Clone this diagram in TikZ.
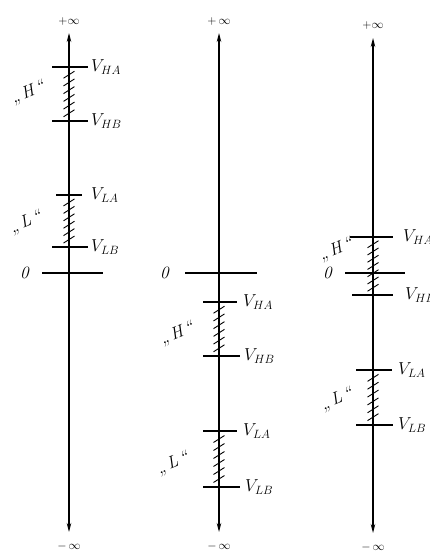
\documentclass[tikz,border=0pt]{standalone}
\usepackage{fontspec}
\usetikzlibrary{arrows.meta,positioning}

\tikzset{
    axisline/.style={line width=1.1pt, {Stealth[length=9pt,width=4.5pt]}-{Stealth[length=9pt,width=4.5pt]}},
    tickline/.style={line width=1.1pt},
    hatchmark/.style={line width=0.9pt},
    vlabel/.style={font=\LARGE\itshape, inner sep=0pt, anchor=west},
    zlabel/.style={font=\LARGE\itshape, inner sep=0pt},
    qlabel/.style={font=\LARGE\itshape, inner sep=0pt, rotate=22},
    inflabel/.style={font=\large, inner sep=0pt},
}

\begin{document}
\begin{tikzpicture}[x=1pt, y=-1pt]
    \useasboundingbox (0,0) rectangle (430,554);

    % first scale: both bands above zero
    \coordinate (top1) at (69,33);
    \coordinate (bot1) at (69,532);
    \draw[axisline] (bot1) -- (top1);
    \node[inflabel, above=7pt of top1] (pinf1) {$+\infty$};
    \node[inflabel, below=10pt of bot1] (minf1) {$-\,\infty$};
    \draw[tickline] (52,67) -- (88,67) coordinate (ha1);
    \draw[tickline] (52,121) -- (88,121) coordinate (hb1);
    \draw[tickline] (56,195) -- (82,195) coordinate (la1);
    \draw[tickline] (52,247) -- (88,247) coordinate (lb1);
    \draw[tickline] (42,273) coordinate (z1) -- (103,273);
    \node[vlabel, right=3pt of ha1] (vha1) {$V_{HA}$};
    \node[vlabel, right=3pt of hb1] (vhb1) {$V_{HB}$};
    \node[vlabel, right=9pt of la1] (vla1) {$V_{LA}$};
    \node[vlabel, right=3pt of lb1] (vlb1) {$V_{LB}$};
    \node[zlabel, left=13pt of z1] (zero1) {0};
    \node[qlabel] (qh1) at (28,93) {„\,H\,“};
    \node[qlabel] (ql1) at (26,223) {„\,L\,“};

    % second scale: both bands below zero
    \coordinate (top2) at (219,33);
    \coordinate (bot2) at (219,532);
    \draw[axisline] (bot2) -- (top2);
    \node[inflabel, above=7pt of top2] (pinf2) {$+\,\infty$};
    \node[inflabel, below=10pt of bot2] (minf2) {$-\,\infty$};
    \draw[tickline] (185,273) coordinate (z2) -- (257,273);
    \draw[tickline] (203,302) -- (237,302) coordinate (ha2);
    \draw[tickline] (203,356) -- (240,356) coordinate (hb2);
    \draw[tickline] (203,431) -- (237,431) coordinate (la2);
    \draw[tickline] (203,487) -- (240,487) coordinate (lb2);
    \node[vlabel, right=6pt of ha2] (vha2) {$V_{HA}$};
    \node[vlabel, right=4pt of hb2] (vhb2) {$V_{HB}$};
    \node[vlabel, right=6pt of la2] (vla2) {$V_{LA}$};
    \node[vlabel, right=5pt of lb2] (vlb2) {$V_{LB}$};
    \node[zlabel, left=16pt of z2] (zero2) {0};
    \node[qlabel] (qh2) at (177,334) {„\,H\,“};
    \node[qlabel] (ql2) at (173,464) {„\,L\,“};

    % third scale: zero inside the H band
    \coordinate (top3) at (373,38);
    \coordinate (bot3) at (373,533);
    \draw[axisline] (bot3) -- (top3);
    \node[inflabel, above=8pt of top3] (pinf3) {$+\infty$};
    \node[inflabel, below=10pt of bot3] (minf3) {$-\,\infty$};
    \draw[tickline] (350,237) -- (393,237) coordinate (ha3);
    \draw[tickline] (345,273) coordinate (z3) -- (405,273);
    \draw[tickline] (352,295) -- (393,295) coordinate (hb3);
    \draw[tickline] (356,370) -- (392,370) coordinate (la3);
    \draw[tickline] (356,425) -- (393,425) coordinate (lb3);
    \node[vlabel, right=10pt of ha3] (vha3) {$V_{HA}$};
    \node[vlabel, right=12pt of hb3] (vhb3) {$V_{HB}$};
    \node[vlabel, right=6pt of la3] (vla3) {$V_{LA}$};
    \node[vlabel, right=5pt of lb3] (vlb3) {$V_{LB}$};
    \node[zlabel, left=13pt of z3] (zero3) {0};
    \node[qlabel] (qh3) at (336,250) {„\,H\,“};
    \node[qlabel] (ql3) at (337,400) {„\,L\,“};

    % hatched bands
    \foreach \x/\ya/\yb/\n in {69/67/121/6, 69/195/247/6, 219/302/356/6,
                               219/431/487/6, 373/237/295/7, 373/370/425/6}
        \foreach \k in {1,...,\n}
            \draw[hatchmark] ({\x-5.5},{\ya+\k*(\yb-\ya)/(\n+1)+3.5}) -- ++(11,-7);
\end{tikzpicture}
\end{document}
